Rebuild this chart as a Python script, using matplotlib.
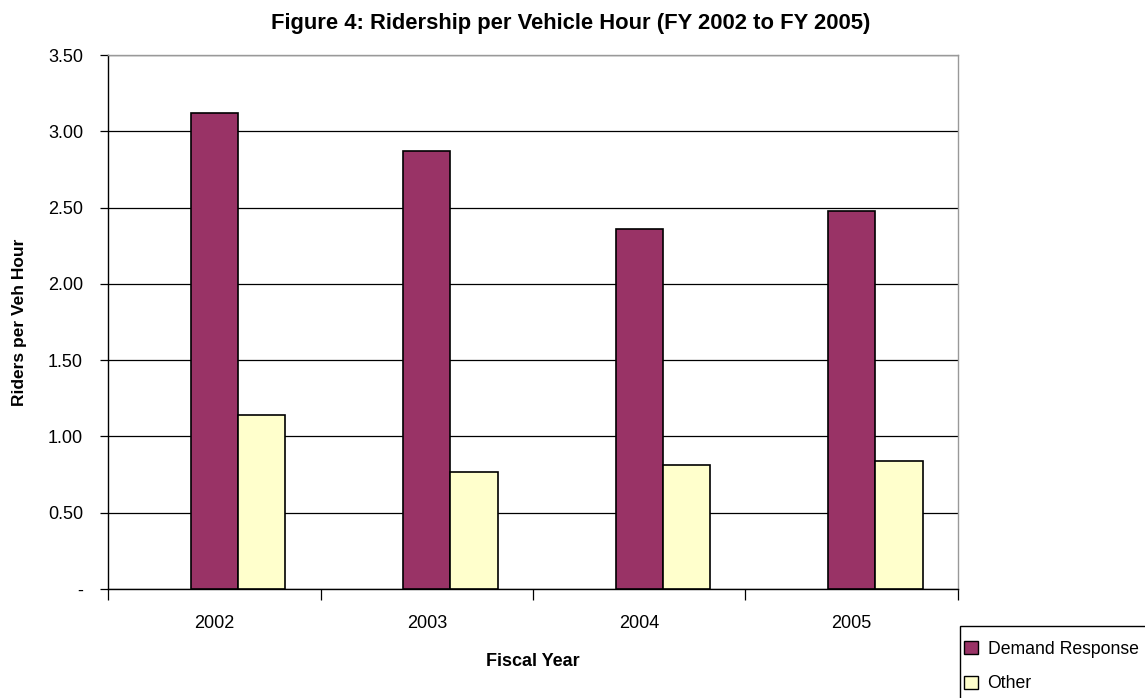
"""Figure 4: Ridership per Vehicle Hour, FY 2002 to FY 2005."""

import matplotlib
matplotlib.use("Agg")
import matplotlib.pyplot as plt
from matplotlib.patches import Patch, Rectangle
import numpy as np

# ------------------------------------------------------------------ #
# Data
# ------------------------------------------------------------------ #
years = ["2002", "2003", "2004", "2005"]
demand_response = [3.12, 2.87, 2.36, 2.48]
other = [1.14, 0.77, 0.81, 0.84]
y_ticks = [0.0, 0.5, 1.0, 1.5, 2.0, 2.5, 3.0, 3.5]
y_tick_labels = ["-", "0.50", "1.00", "1.50", "2.00", "2.50", "3.00", "3.50"]

DR_COLOR = "#993366"
OTHER_COLOR = "#FFFFCC"

plt.rcParams["font.family"] = ["Liberation Sans", "DejaVu Sans"]

W, H = 1145, 698
fig = plt.figure(figsize=(W / 100, H / 100), dpi=100)
ax = fig.add_axes([108 / W, 1 - 589 / H, (958 - 108) / W, (589 - 55) / H])

x = np.arange(len(years))
bw = 0.2235
ax.bar(x, demand_response, bw, color=DR_COLOR, edgecolor="black", linewidth=1.2, zorder=3)
ax.bar(x + bw, other, bw, color=OTHER_COLOR, edgecolor="black", linewidth=1.2, zorder=3)

ax.set_xlim(-0.5, len(years) - 0.5)
ax.set_ylim(0, 3.5)

# y axis
ax.set_yticks(y_ticks)
ax.set_yticklabels(y_tick_labels, fontsize=13)
ax.tick_params(axis="y", direction="out", length=6, width=0.9, pad=12)

# x axis: labels at centres, tick marks at category boundaries
ax.set_xticks(x)
ax.set_xticklabels(years, fontsize=13)
ax.tick_params(axis="x", length=0, pad=19)
ax.set_xticks(np.arange(-0.5, len(years)), minor=True)
ax.tick_params(axis="x", which="minor", direction="out", length=8, width=0.9)

ax.grid(True, axis="y", color="black", linewidth=0.9, zorder=0)
ax.set_axisbelow(True)

ax.spines["left"].set_color("black")
ax.spines["bottom"].set_color("black")
ax.spines["top"].set_color("#999999")
ax.spines["right"].set_color("#999999")
for s in ax.spines.values():
    s.set_linewidth(1.0)

ax.set_xlabel("Fiscal Year", fontsize=13, fontweight="bold", labelpad=15)
ax.set_ylabel("Riders per Veh Hour", fontsize=12.5, fontweight="bold", labelpad=15)

fig.text(571 / W, 1 - 23 / H, "Figure 4: Ridership per Vehicle Hour (FY 2002 to FY 2005)",
         ha="center", va="center", fontsize=15.8, fontweight="bold")

# legend box, clipped at the figure edge like the original
fig.patches.append(Rectangle((960 / W, -0.02), 0.2, 1 - 626 / H + 0.02,
                             transform=fig.transFigure, facecolor="white",
                             edgecolor="black", linewidth=1.0))
handles = [Patch(facecolor=DR_COLOR, edgecolor="black"),
           Patch(facecolor=OTHER_COLOR, edgecolor="black")]
fig.legend(handles, ["Demand Response", "Other"], loc="upper left",
           bbox_to_anchor=(962 / W, 1 - 639 / H), frameon=False, fontsize=12.7,
           handlelength=0.8, handleheight=0.8, handletextpad=0.55,
           labelspacing=1.0, borderpad=0.1, borderaxespad=0)

fig.savefig("out.png", dpi=100)
